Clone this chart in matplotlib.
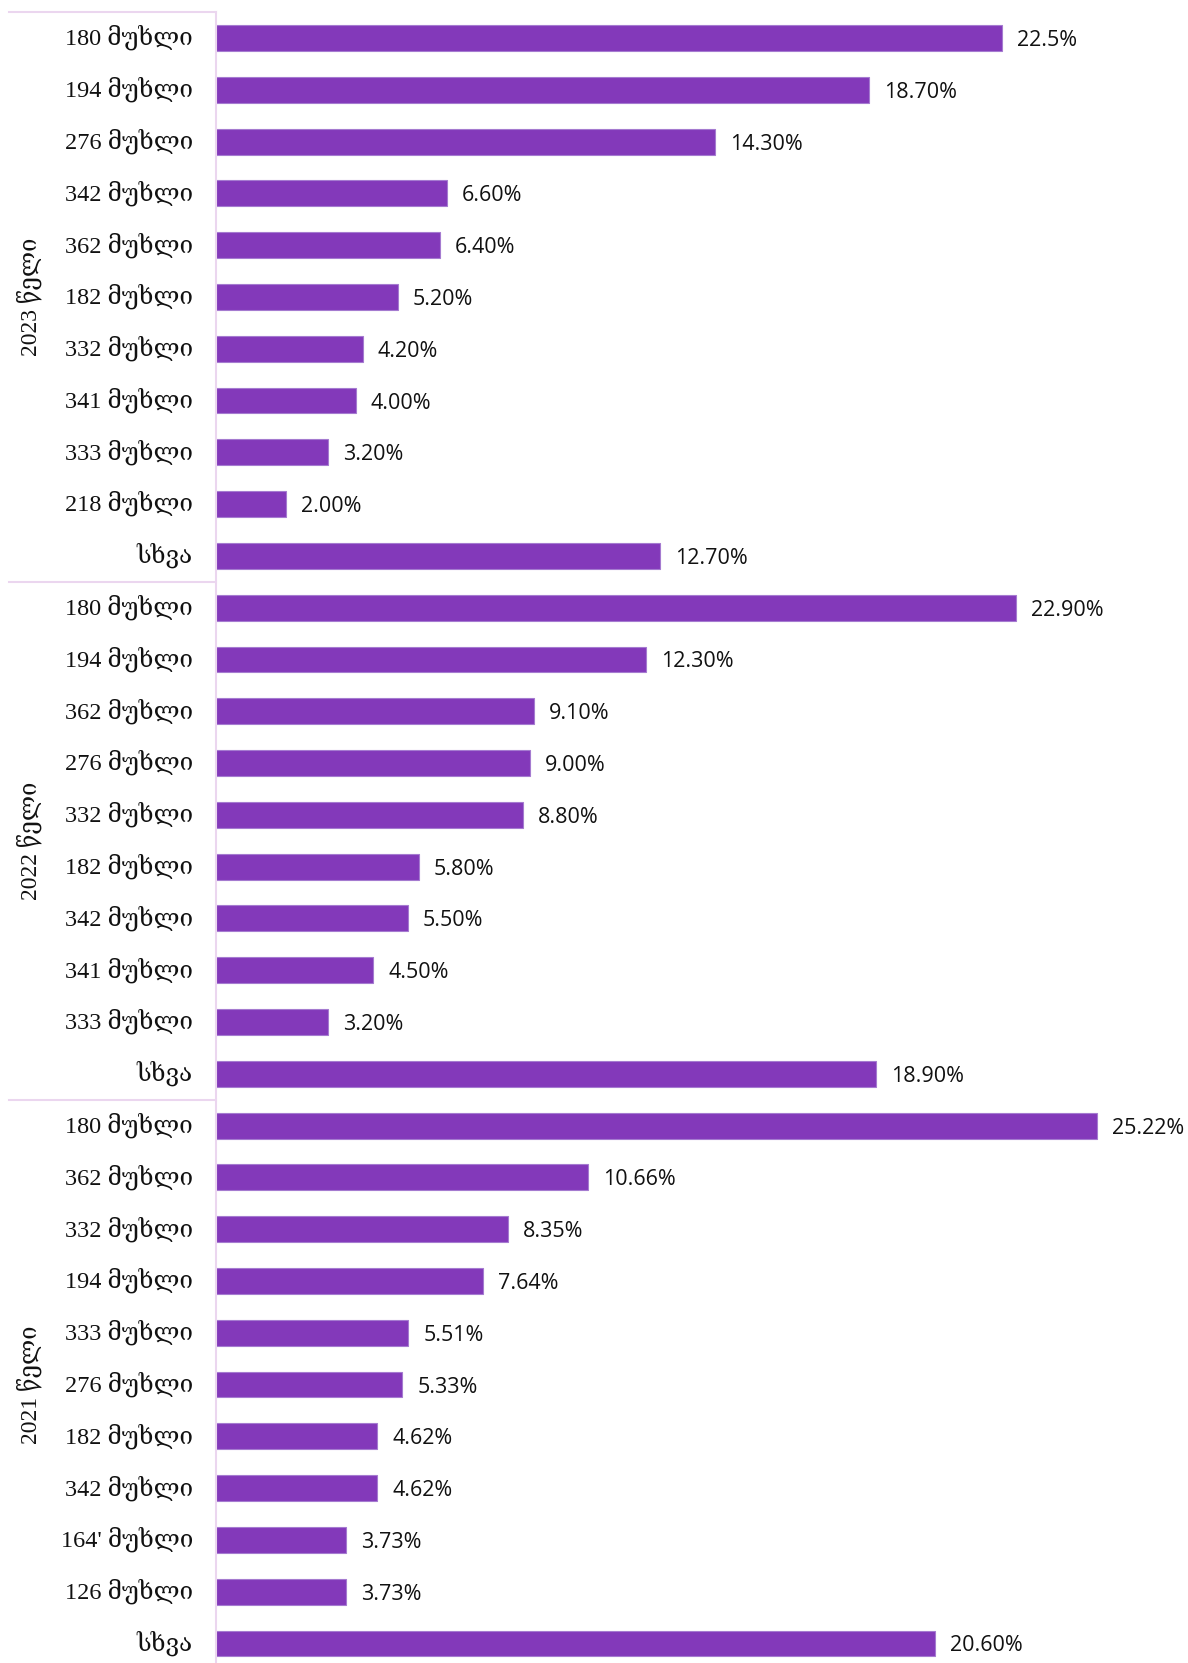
import matplotlib
matplotlib.use("Agg")
import matplotlib.pyplot as plt
import matplotlib.transforms as mtransforms

# article shares by year, top to bottom
years = ["2023 წელი", "2022 წელი", "2021 წელი"]

articles_2023 = ["180 მუხლი", "194 მუხლი", "276 მუხლი", "342 მუხლი", "362 მუხლი",
                 "182 მუხლი", "332 მუხლი", "341 მუხლი", "333 მუხლი", "218 მუხლი", "სხვა"]
shares_2023 = [22.5, 18.70, 14.30, 6.60, 6.40, 5.20, 4.20, 4.00, 3.20, 2.00, 12.70]

articles_2022 = ["180 მუხლი", "194 მუხლი", "362 მუხლი", "276 მუხლი", "332 მუხლი",
                 "182 მუხლი", "342 მუხლი", "341 მუხლი", "333 მუხლი", "სხვა"]
shares_2022 = [22.90, 12.30, 9.10, 9.00, 8.80, 5.80, 5.50, 4.50, 3.20, 18.90]

articles_2021 = ["180 მუხლი", "362 მუხლი", "332 მუხლი", "194 მუხლი", "333 მუხლი",
                 "276 მუხლი", "182 მუხლი", "342 მუხლი", "164' მუხლი", "126 მუხლი", "სხვა"]
shares_2021 = [25.22, 10.66, 8.35, 7.64, 5.51, 5.33, 4.62, 4.62, 3.73, 3.73, 20.60]

groups = [(articles_2023, shares_2023), (articles_2022, shares_2022), (articles_2021, shares_2021)]

labels = []
values = []
for names, vals in groups:
    labels += names
    values += vals

bar_color = "#8339BA"
line_color = "#EBD6EF"
serif = ["Liberation Serif", "DejaVu Serif"]

W, H = 1188, 1663
fig = plt.figure(figsize=(W / 100, H / 100), dpi=100)
row_h = 51.79
n = len(values)
top = 12.1
ax = fig.add_axes([216 / W, (H - top - n * row_h) / H, (W - 216) / W, n * row_h / H])

ypos = list(range(n))
ax.barh(ypos, values, height=0.5, color=bar_color, edgecolor="#A57BD0", linewidth=0.8)
ax.set_ylim(n - 0.5, -0.5)
ax.set_xlim(0, 27.83)

for y, v in zip(ypos, values):
    txt = "22.5%" if (y == 0) else f"{v:.2f}%"
    ax.annotate(txt, (v, y), xytext=(15, 0), textcoords="offset pixels",
                va="center_baseline", ha="left", fontsize=15.5, family="Open Sans",
                color="#111111")

# category names, drawn as text so they can sit a little higher
ax.set_yticks([])
for y, name in zip(ypos, labels):
    ax.annotate(name, (0, y), xytext=(-23, 3), textcoords="offset pixels",
                va="center_baseline", ha="right", fontsize=17.5, family=serif,
                color="#111111", annotation_clip=False)

ax.set_xticks([])
for s in ["top", "right", "bottom"]:
    ax.spines[s].set_visible(False)
ax.spines["left"].set_color(line_color)
ax.spines["left"].set_linewidth(1.5)

# group separators and year captions to the left of the axis
trans = mtransforms.blended_transform_factory(fig.transFigure, ax.transData)
start = 0
for yr, (names, _) in zip(years, groups):
    edge = start - 0.5
    ax.plot([9 / W, 216 / W], [edge, edge], transform=trans, color=line_color,
            lw=1.5, clip_on=False)
    mid = start + (len(names) - 1) / 2
    ax.text(29 / W, mid, yr, transform=trans, rotation=90, ha="center", va="center",
            family=serif, fontsize=17, color="#111111")
    start += len(names)

fig.savefig("out.png", dpi=100, facecolor="white")
